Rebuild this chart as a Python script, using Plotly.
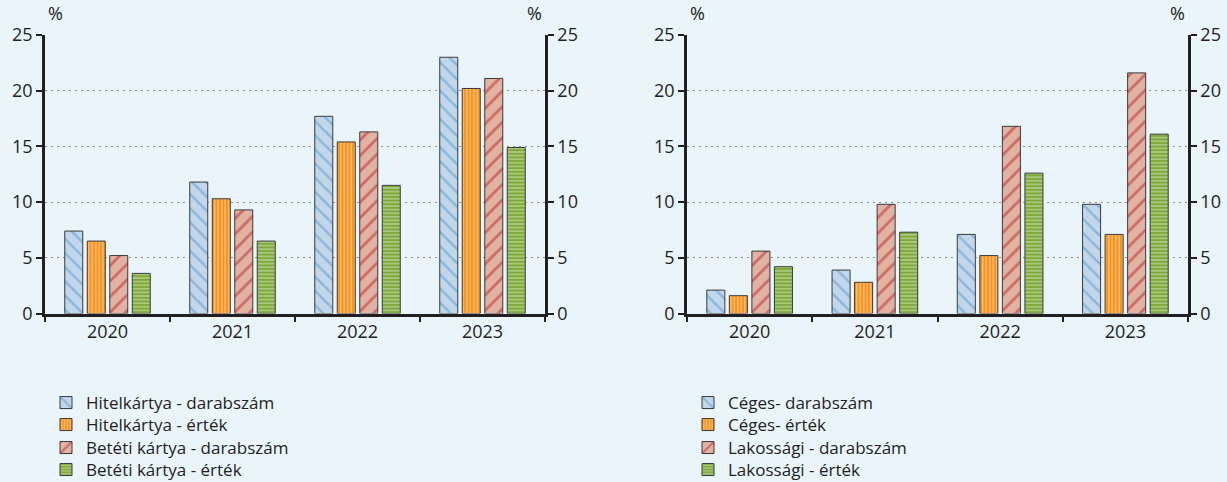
import plotly.graph_objects as go

years = ["2020", "2021", "2022", "2023"]

# Left chart
hitel_darab = [7.4, 11.8, 17.7, 23.0]
hitel_ertek = [6.5, 10.3, 15.4, 20.2]
beteti_darab = [5.2, 9.3, 16.3, 21.1]
beteti_ertek = [3.6, 6.5, 11.5, 14.9]

# Right chart
ceges_darab = [2.1, 3.9, 7.1, 9.8]
ceges_ertek = [1.6, 2.8, 5.2, 7.1]
lakossagi_darab = [5.6, 9.8, 16.8, 21.6]
lakossagi_ertek = [4.2, 7.3, 12.6, 16.1]

left_names = ["Hitelkártya - darabszám", "Hitelkártya - érték",
              "Betéti kártya - darabszám", "Betéti kártya - érték"]
right_names = ["Céges- darabszám", "Céges- érték",
               "Lakossági - darabszám", "Lakossági - érték"]

BG = "#EAF4FB"
AX = "#231F20"
FONT = "Open Sans"

styles = [
    dict(color="#C3D7EB", pattern=dict(shape="\\", fgcolor="#4F98CC", size=10, solidity=0.25, fillmode="overlay")),
    dict(color="#F7931E", pattern=dict(shape="|", fgcolor="#FFE3C0", size=3.5, solidity=0.45, fillmode="overlay")),
    dict(color="#E2B3A2", pattern=dict(shape="/", fgcolor="#B5222A", size=11, solidity=0.25, fillmode="overlay")),
    dict(color="#7DA93A", pattern=dict(shape="-", fgcolor="#E8F2D3", size=3.6, solidity=0.42, fillmode="overlay")),
]

W, H = 1227, 482
lx0, lx1 = 45 / W, 545 / W
rx0, rx1 = 687 / W, 1188 / W
yb, yt = 1 - 313.5 / H, 1 - 35 / H
row_y = [403, 425, 448, 470]

fig = go.Figure()

left_series = [hitel_darab, hitel_ertek, beteti_darab, beteti_ertek]
right_series = [ceges_darab, ceges_ertek, lakossagi_darab, lakossagi_ertek]

for i, (name, vals, st) in enumerate(zip(left_names, left_series, styles)):
    fig.add_trace(go.Bar(
        x=years, y=vals, name=name, xaxis="x", yaxis="y",
        legend="legend" if i == 0 else f"legend{i + 1}",
        marker=dict(color=st["color"], pattern=st["pattern"],
                    line=dict(color="#3A3A3A", width=1)),
    ))
for i, (name, vals, st) in enumerate(zip(right_names, right_series, styles)):
    fig.add_trace(go.Bar(
        x=years, y=vals, name=name, xaxis="x2", yaxis="y3",
        legend=f"legend{i + 5}",
        marker=dict(color=st["color"], pattern=st["pattern"],
                    line=dict(color="#3A3A3A", width=1)),
    ))

# invisible traces so the right-hand mirror axes are drawn
fig.add_trace(go.Scatter(x=years, y=[None] * 4, xaxis="x", yaxis="y2",
                         showlegend=False, hoverinfo="skip"))
fig.add_trace(go.Scatter(x=years, y=[None] * 4, xaxis="x2", yaxis="y4",
                         showlegend=False, hoverinfo="skip"))

tickfont = dict(family=FONT, size=18, color=AX)


def xax(domain, anchor):
    return dict(domain=domain, anchor=anchor, type="category", tickson="boundaries",
                showline=True, linecolor=AX, linewidth=2.5, ticks="outside",
                ticklen=6, tickwidth=2, tickcolor=AX, showgrid=False,
                tickfont=tickfont, fixedrange=True, automargin=False)


def yax(anchor, side="left", overlay=None):
    d = dict(anchor=anchor, domain=[yb, yt], range=[0, 25], dtick=5, tick0=0,
             showline=True, linecolor=AX, linewidth=2.5, ticks="outside",
             ticklen=6, tickwidth=2, tickcolor=AX, side=side,
             showgrid=True, gridcolor="#8F8F8F", griddash="2px,4px", gridwidth=1.3,
             zeroline=False, tickfont=tickfont, fixedrange=True, automargin=False)
    if overlay:
        d["overlaying"] = overlay
        d["showgrid"] = False
    return d


legend_common = dict(font=dict(family=FONT, size=17, color=AX), bgcolor="rgba(0,0,0,0)",
                     yanchor="middle", xanchor="left", borderwidth=0,
                     itemclick=False, itemdoubleclick=False)

legends = {}
for i in range(8):
    key = "legend" if i == 0 else f"legend{i + 1}"
    xpos = (lx0 + 1 / W) if i < 4 else (rx0 + 1 / W)
    legends[key] = dict(x=xpos, y=1 - row_y[i % 4] / H, **legend_common)

fig.update_layout(
    width=W, height=H,
    paper_bgcolor=BG, plot_bgcolor=BG,
    margin=dict(l=0, r=0, t=0, b=0, autoexpand=False),
    barmode="group", bargap=0.28, bargroupgap=0.2,
    xaxis=xax([lx0, lx1], "y"),
    xaxis2=xax([rx0, rx1], "y3"),
    yaxis=yax("x", "left"),
    yaxis2=yax("x", "right", overlay="y"),
    yaxis3=yax("x2", "left"),
    yaxis4=yax("x2", "right", overlay="y3"),
    font=dict(family=FONT, color=AX),
    **legends,
)

pct_y = 1 - 27 / H
for xp, anchor in [(lx0 + 1 / W, "left"), (lx1 - 1 / W, "right"),
                   (rx0 + 1 / W, "left"), (rx1 - 1 / W, "right")]:
    fig.add_annotation(text="%", x=xp, y=pct_y, xref="paper", yref="paper",
                       xanchor=anchor, yanchor="bottom", showarrow=False,
                       font=dict(family=FONT, size=18, color=AX))

fig.write_html("out.html", config={"displayModeBar": False},
               post_script="document.body.style.margin='0px';document.body.style.overflow='hidden';")
